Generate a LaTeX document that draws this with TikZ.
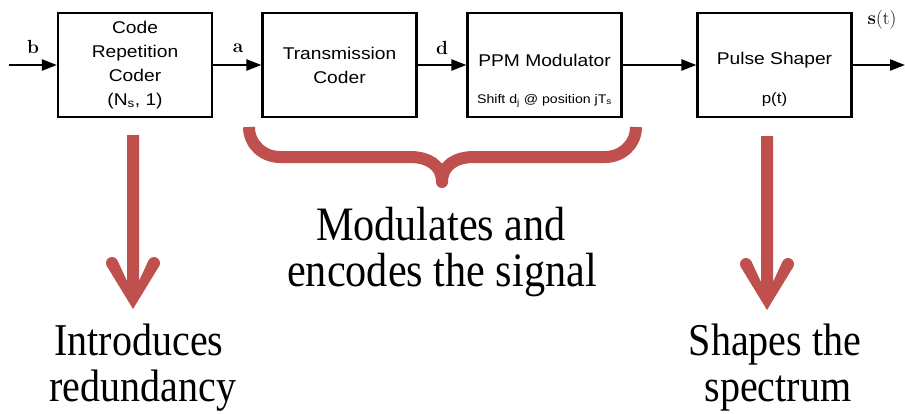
\documentclass[tikz,border=0pt]{standalone}
\usepackage{fontspec}
\usetikzlibrary{arrows.meta}
\newfontfamily\boxfont[FakeStretch=1.13]{Liberation Sans}
\newfontfamily\capfont[FakeStretch=0.88]{Liberation Serif}
\definecolor{brick}{HTML}{C0504D}
\tikzset{
  redarrow/.pic={
    \fill[brick] (-6,0) -- (-6,146) -- (-15.5,125.5) -- (-26.5,130.5) -- (0,174)
      -- (26.5,130.5) -- (15.5,125.5) -- (6,146) -- (6,0) -- cycle;
    \fill[brick] (-21,128) circle (6pt);
    \fill[brick] (21,128) circle (6pt);
  }
}
\begin{document}
\begin{tikzpicture}[x=1pt,y=-1pt,
  blk/.style={draw=black, line width=2.2pt, minimum width=154pt, minimum height=104pt,
    inner sep=0pt, align=center, font=\boxfont\fontsize{17}{24}\selectfont},
  flow/.style={line width=2.3pt, -{Triangle[length=15pt,width=11pt]}},
  sig/.style={font=\fontsize{19}{21}\selectfont\bfseries, inner sep=0pt},
  captxt/.style={font=\capfont\fontsize{48}{50}\selectfont, inner sep=0pt, anchor=base},
  captxtb/.style={font=\capfont\fontsize{45.5}{50}\selectfont, inner sep=0pt, anchor=base},
  small/.style={font=\boxfont\fontsize{12.5}{14}\selectfont, inner sep=0pt, anchor=base},
  mid/.style={font=\boxfont\fontsize{17}{24}\selectfont, inner sep=0pt, anchor=base},
  brace/.style={draw=brick, line width=12pt, line join=round, line cap=butt}
]
\useasboundingbox (0,0) rectangle (905,413);

% blocks
\node[blk] (b1) at (135,65) {Code\\Repetition\\Coder\\(N\textsubscript{s}, 1)};
\node[blk] (b2) at (339.5,65) {Transmission\\Coder};
\node[blk] (b3) at (544.5,65) {};
\node[blk] (b4) at (774.5,65) {};
\node[mid] (t3) at (544.5,66) {PPM Modulator};
\node[small] (s3) at (544.5,103) {Shift d\textsubscript{j} @ position jT\textsubscript{s}};
\node[mid] (t4) at (774.5,64) {Pulse Shaper};
\node[mid, font=\boxfont\fontsize{15}{18}\selectfont] (p4) at (774.5,103) {p(t)};

% signal chain
\coordinate (in) at (9,65);
\coordinate (out) at (905,65);
\draw[flow] (in) -- (b1);
\draw[flow] (b1) -- (b2);
\draw[flow] (b2) -- (b3);
\draw[flow] (b3) -- (b4);
\draw[flow] (b4) -- (out);

\node[sig] (lb) at (33,47) {b};
\node[sig] (la) at (238,48) {a};
\node[sig] (ld) at (442,48) {d};
\node[font=\fontsize{19}{21}\selectfont, inner sep=0pt] (ls) at (882,20) {\textbf{s}(t)};

% brace
\draw[brace] (249,127) .. controls (249,144.1) and (262.9,157) .. (280,157) -- (410,157)
  .. controls (428,157) and (442,165) .. (442,182)
  .. controls (442,165) and (456,157) .. (474,157) -- (605,157)
  .. controls (622.1,157) and (636,144.1) .. (636,127);

% red arrows
\pic (ra1) at (133,135) {redarrow};
\pic (ra2) at (767,136) {redarrow};

% captions
\node[captxt] (m1) at (441,240) {Modulates and};
\node[captxt] (m2) at (442,286) {encodes the signal};
\node[captxtb] (i1) at (139,355) {Introduces};
\node[captxtb] (i2) at (143,401) {redundancy};
\node[captxtb] (h1) at (775,355) {Shapes the};
\node[captxtb] (h2) at (778,401) {spectrum};
\end{tikzpicture}
\end{document}
